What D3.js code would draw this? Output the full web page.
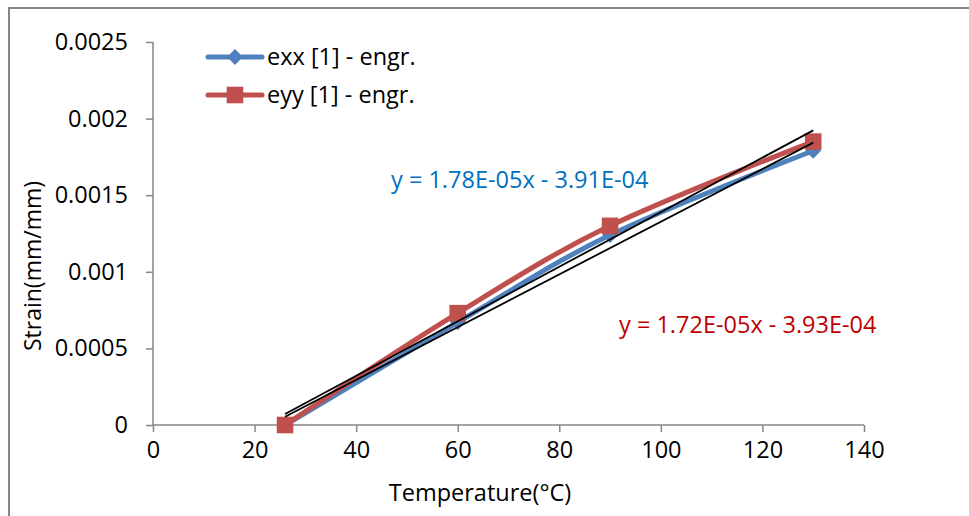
<!DOCTYPE html>
<html>
<head>
<meta charset="utf-8">
<script src="https://cdn.jsdelivr.net/npm/d3@7"></script>
<style>
  body { margin: 0; background: #fff; }
  text { font-family: "Open Sans", "Liberation Sans", sans-serif; }
</style>
</head>
<body>
<div id="chart"></div>
<script>
// data
var temps = [26, 60, 90, 130];
var exx = [0, 0.00067, 0.00124, 0.00179];
var eyy = [0, 0.00073, 0.0013, 0.00185];
var seriesNames = ["exx [1] - engr.", "eyy [1] - engr."];
var xTicks = [0, 20, 40, 60, 80, 100, 120, 140];
var yTicks = [0, 0.0005, 0.001, 0.0015, 0.002, 0.0025];
var yTickLabels = ["0", "0.0005", "0.001", "0.0015", "0.002", "0.0025"];
// trendline coefficients [slope, intercept] as printed on the chart
var trendExx = [1.78e-5, -3.91e-4];
var trendEyy = [1.72e-5, -3.93e-4];
var trendLabels = ["y = 1.78E-05x - 3.91E-04", "y = 1.72E-05x - 3.93E-04"];

var svgWidth = 969, svgHeight = 516;
var margin = { top: 42, left: 153, right: 105, bottom: 91 };
var chartWidth = svgWidth - margin.left - margin.right;
var chartHeight = svgHeight - margin.top - margin.bottom;

var blue = "#4F81BD", red = "#C0504D", axisColor = "#868686";
var fontSize = 23.5;

var svg = d3.select("#chart").append("svg")
  .attr("width", svgWidth)
  .attr("height", svgHeight);

// outer chart border (right and bottom fall outside the frame)
svg.append("rect")
  .attr("x", 9).attr("y", 8)
  .attr("width", 1000).attr("height", 600)
  .attr("fill", "none")
  .attr("stroke", axisColor)
  .attr("stroke-width", 2);

var chartGroup = svg.append("g")
  .attr("transform", `translate(${margin.left}, ${margin.top})`);

var x = d3.scaleLinear().domain([0, 140]).range([0, chartWidth]);
var y = d3.scaleLinear().domain([0, 0.0025]).range([chartHeight, 0]);

// axes
var xAxis = d3.axisBottom(x).tickValues(xTicks).tickSize(7).tickPadding(5);
var yAxis = d3.axisLeft(y).tickValues(yTicks).tickSize(7).tickPadding(18)
  .tickFormat((d, i) => yTickLabels[i]);

var gx = chartGroup.append("g")
  .attr("transform", `translate(0, ${chartHeight})`)
  .call(xAxis);
var gy = chartGroup.append("g").call(yAxis);

[gx, gy].forEach(function(g) {
  g.selectAll("path, line").attr("stroke", axisColor).attr("stroke-width", 1.5);
  g.select(".domain").attr("d", null);
  g.selectAll("text").attr("font-size", fontSize).attr("fill", "#000")
    .style("font-family", '"Open Sans", sans-serif');
});
gx.append("line").attr("x1", 0).attr("x2", chartWidth)
  .attr("stroke", axisColor).attr("stroke-width", 1.5);
gy.append("line").attr("y1", 0).attr("y2", chartHeight)
  .attr("stroke", axisColor).attr("stroke-width", 1.5);
gx.selectAll("text").attr("dy", "0.9em");

// series lines (smoothed)
var line = d3.line()
  .x((d, i) => x(temps[i]))
  .y(d => y(d))
  .curve(d3.curveCatmullRom.alpha(0));

var diamond = d3.symbol().type(d3.symbolDiamond2).size(160);
var square = d3.symbol().type(d3.symbolSquare2).size(350);

chartGroup.append("path")
  .attr("d", line(exx))
  .attr("fill", "none").attr("stroke", blue)
  .attr("stroke-width", 5).attr("stroke-linecap", "round");
chartGroup.selectAll(".exxMark")
  .data(exx).enter().append("path")
  .attr("class", "exxMark")
  .attr("transform", (d, i) => `translate(${x(temps[i])}, ${y(d)})`)
  .attr("d", diamond)
  .attr("fill", blue);

chartGroup.append("path")
  .attr("d", line(eyy))
  .attr("fill", "none").attr("stroke", red)
  .attr("stroke-width", 5).attr("stroke-linecap", "round");
chartGroup.selectAll(".eyyMark")
  .data(eyy).enter().append("path")
  .attr("class", "eyyMark")
  .attr("transform", (d, i) => `translate(${x(temps[i])}, ${y(d)})`)
  .attr("d", square)
  .attr("fill", red);

// linear trendlines
[trendExx, trendEyy].forEach(function(t) {
  var x0 = d3.min(temps), x1 = d3.max(temps);
  chartGroup.append("line")
    .attr("x1", x(x0)).attr("y1", y(t[0] * x0 + t[1]))
    .attr("x2", x(x1)).attr("y2", y(t[0] * x1 + t[1]))
    .attr("stroke", "#000").attr("stroke-width", 1.8);
});

// trendline equations
svg.append("text")
  .attr("x", 391).attr("y", 188)
  .attr("font-size", fontSize).attr("fill", "#0070C0")
  .text(trendLabels[0]);
svg.append("text")
  .attr("x", 619).attr("y", 333)
  .attr("font-size", fontSize).attr("fill", "#C00000")
  .text(trendLabels[1]);

// legend
var legend = svg.append("g").attr("transform", "translate(208, 57)");
[[blue, diamond], [red, square]].forEach(function(s, i) {
  var row = legend.append("g").attr("transform", `translate(0, ${i * 38})`);
  row.append("line").attr("x1", 0).attr("x2", 54)
    .attr("stroke", s[0]).attr("stroke-width", 5).attr("stroke-linecap", "round");
  row.append("path").attr("transform", "translate(27, 0)")
    .attr("d", s[1]).attr("fill", s[0]);
  row.append("text").attr("x", 59).attr("dy", "0.35em")
    .attr("font-size", fontSize).text(seriesNames[i]);
});

// axis labels
svg.append("text")
  .attr("transform", "rotate(-90)")
  .attr("x", -266).attr("y", 41)
  .attr("text-anchor", "middle")
  .attr("font-size", 23)
  .text("Strain(mm/mm)");

svg.append("text")
  .attr("x", 480).attr("y", 501)
  .attr("text-anchor", "middle")
  .attr("font-size", fontSize)
  .text("Temperature(°C)");
</script>
</body>
</html>
